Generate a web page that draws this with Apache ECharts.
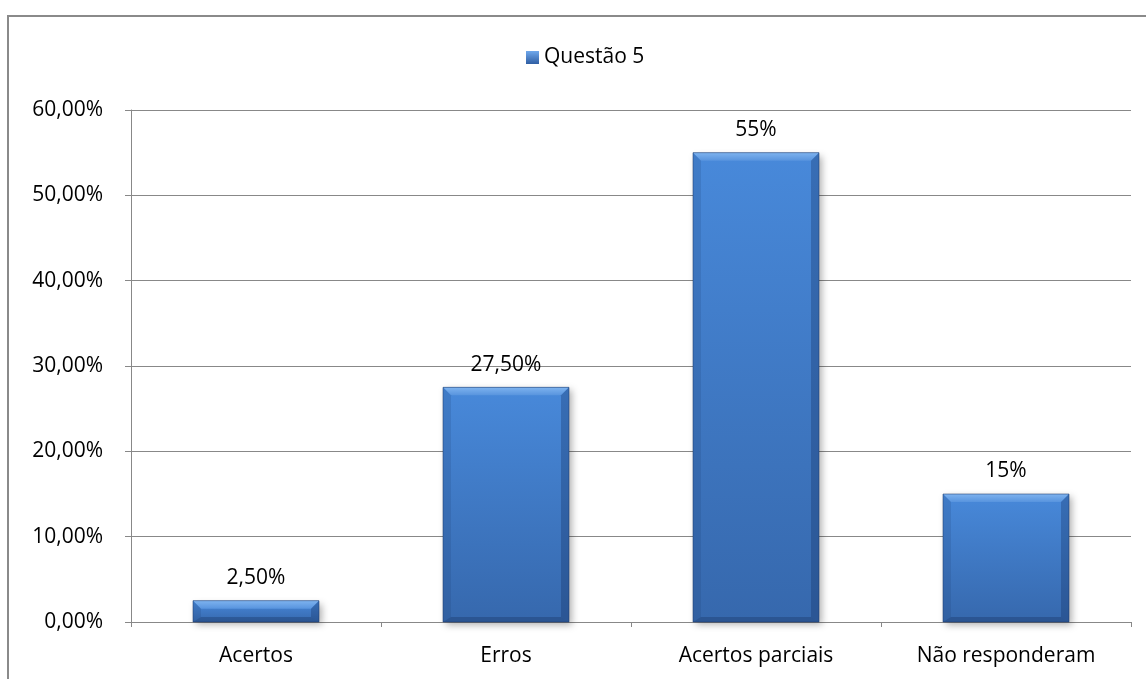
<!DOCTYPE html>
<html>
<head>
<meta charset="utf-8">
<script src="https://cdn.jsdelivr.net/npm/echarts@6/dist/echarts.min.js"></script>
<style>
  html, body { margin: 0; padding: 0; background: #fff; }
  #chart { width: 1146px; height: 679px; }
</style>
</head>
<body>
<div id="chart"></div>
<script>
// Question 5 results
const categories = ['Acertos', 'Erros', 'Acertos parciais', 'Não responderam'];
const values = [2.5, 27.5, 55, 15];
const valueLabels = ['2,50%', '27,50%', '55%', '15%'];
const seriesName = 'Questão 5';
const yTicks = [0, 10, 20, 30, 40, 50, 60];

const FONT = '"Open Sans", sans-serif';
const FS = 21;
const chart = echarts.init(document.getElementById('chart'));

// Bevelled bar drawn through the axis scales
function bevelBar(params, api) {
  const idx = api.value(0);
  const top = api.coord([idx, api.value(1)]);
  const base = api.coord([idx, 0]);
  const band = api.size([1, 0])[0];
  const w = band * 0.504;
  const x0 = top[0] - w / 2, x1 = top[0] + w / 2;
  const y0 = top[1], y1 = base[1];
  const h = y1 - y0;
  const b = Math.min(8, h / 2.5);
  const bs = Math.min(5, h / 4);
  return {
    type: 'group',
    children: [
      {
        type: 'rect',
        shape: { x: x0, y: y0, width: w, height: h },
        style: {
          fill: new echarts.graphic.LinearGradient(0, 0, 0, 1, [
            { offset: 0, color: '#4889DA' },
            { offset: 1, color: '#3668AD' }
          ]),
          shadowBlur: 7, shadowOffsetX: 3, shadowOffsetY: 3,
          shadowColor: 'rgba(0,0,0,0.3)'
        }
      },
      {
        type: 'polygon',
        shape: { points: [[x0, y0], [x1, y0], [x1 - b, y0 + b], [x0 + b, y0 + b]] },
        style: {
          fill: new echarts.graphic.LinearGradient(0, 0, 0, 1, [
            { offset: 0, color: '#7EB3EF' },
            { offset: 1, color: '#5894DE' }
          ])
        }
      },
      {
        type: 'polygon',
        shape: { points: [[x0, y0], [x0 + b, y0 + b], [x0 + b, y1 - bs], [x0, y1]] },
        style: { fill: 'rgba(25,55,105,0.16)' }
      },
      {
        type: 'polygon',
        shape: { points: [[x1, y0], [x1 - b, y0 + b], [x1 - b, y1 - bs], [x1, y1]] },
        style: { fill: 'rgba(15,40,85,0.28)' }
      },
      {
        type: 'polygon',
        shape: { points: [[x0, y1], [x0 + b, y1 - bs], [x1 - b, y1 - bs], [x1, y1]] },
        style: { fill: 'rgba(15,35,75,0.28)' }
      },
      {
        type: 'rect',
        shape: { x: x0, y: y0, width: w, height: h },
        style: { fill: 'none', stroke: 'rgba(30,60,110,0.55)', lineWidth: 1 }
      }
    ]
  };
}

chart.setOption({
  animation: false,
  graphic: [{
    type: 'rect',
    shape: { x: 8, y: 16, width: 1160, height: 700 },
    style: { fill: 'none', stroke: '#8a8a8a', lineWidth: 2 },
    silent: true
  }],
  legend: {
    data: [{ name: seriesName, icon: 'rect' }],
    left: 521,
    top: 42,
    itemWidth: 13,
    itemHeight: 13,
    itemGap: 5,
    textStyle: { fontFamily: FONT, fontSize: FS, color: '#000' },
    itemStyle: {
      color: new echarts.graphic.LinearGradient(0, 0, 0, 1, [
        { offset: 0, color: '#6FA8EC' },
        { offset: 1, color: '#2F5EA3' }
      ])
    }
  },
  grid: { left: 131, right: 15, top: 110, bottom: 57 },
  xAxis: {
    type: 'category',
    data: categories,
    axisLine: { lineStyle: { color: '#888', width: 1 } },
    axisTick: { show: true, length: 5, alignWithLabel: false, lineStyle: { color: '#888' } },
    axisLabel: { fontFamily: FONT, fontSize: FS, color: '#000', margin: 24 }
  },
  yAxis: {
    type: 'value',
    min: yTicks[0],
    max: yTicks[yTicks.length - 1],
    interval: 10,
    axisLine: { show: true, lineStyle: { color: '#888', width: 1 } },
    axisTick: { show: true, length: 6, lineStyle: { color: '#888' } },
    splitLine: { lineStyle: { color: '#888', width: 1 } },
    axisLabel: {
      fontFamily: FONT, fontSize: FS, color: '#000', margin: 28,
      formatter: v => v.toFixed(2).replace('.', ',') + '%'
    }
  },
  series: [
    {
      name: seriesName,
      type: 'custom',
      renderItem: bevelBar,
      itemStyle: { color: '#3F7BC8' },
      data: values.map((v, i) => [i, v]),
      encode: { x: 0, y: 1 },
      z: 3
    },
    {
      name: 'labels',
      type: 'bar',
      data: values,
      barWidth: '50.4%',
      itemStyle: { color: 'rgba(0,0,0,0)' },
      silent: true,
      z: 4,
      label: {
        show: true,
        position: 'top',
        distance: 12,
        fontFamily: FONT, fontSize: FS, color: '#000',
        formatter: p => valueLabels[p.dataIndex]
      }
    }
  ]
});
</script>
</body>
</html>
